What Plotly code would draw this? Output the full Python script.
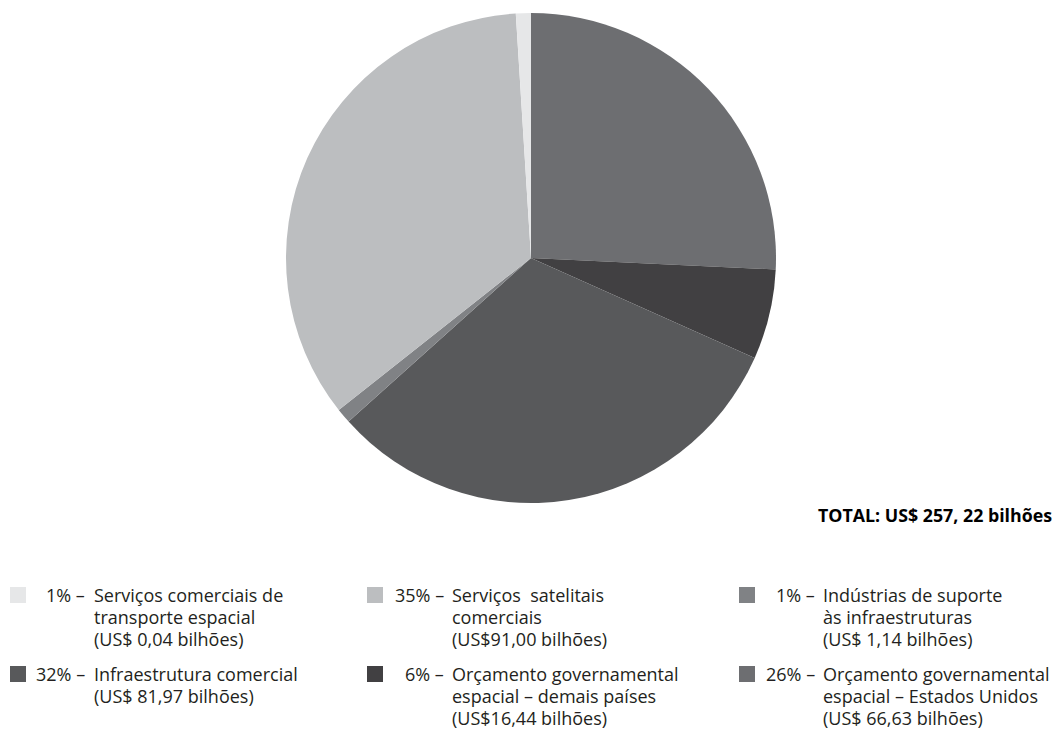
import plotly.graph_objects as go

# Space economy breakdown (share of total, %), clockwise from the top
slice_names = [
    "Orçamento governamental espacial – Estados Unidos",
    "Orçamento governamental espacial – demais países",
    "Infraestrutura comercial",
    "Indústrias de suporte às infraestruturas",
    "Serviços satelitais comerciais",
    "Serviços comerciais de transporte espacial",
]
slice_shares = [26, 6, 32, 1, 35, 1]
slice_colors = ["#6d6e71", "#414042", "#58595b", "#808285", "#bcbec0", "#e6e7e8"]

# Legend text (order: column by column, top to bottom)
legend_order = [5, 2, 4, 1, 3, 0]
legend_lines = {
    5: ["Serviços comerciais de", "transporte espacial"],
    4: ["Serviços  satelitais", "comerciais"],
    3: ["Indústrias de suporte", "às infraestruturas"],
    2: ["Infraestrutura comercial"],
    1: ["Orçamento governamental", "espacial – demais países"],
    0: ["Orçamento governamental", "espacial – Estados Unidos"],
}
legend_values = {
    5: "(US$ 0,04 bilhões)",
    4: "(US$91,00 bilhões)",
    3: "(US$ 1,14 bilhões)",
    2: "(US$ 81,97 bilhões)",
    1: "(US$16,44 bilhões)",
    0: "(US$ 66,63 bilhões)",
}
total_label = "TOTAL: US$ 257, 22 bilhões"

W, H = 1059, 729
FONT = "Open Sans"
FONT_SIZE = 18
TEXT_COLOR = "#231f20"


def px(x):
    return x / W


def py(y):
    return 1 - y / H


fig = go.Figure(
    go.Pie(
        labels=slice_names,
        values=slice_shares,
        marker=dict(colors=slice_colors, line=dict(width=0)),
        sort=False,
        direction="clockwise",
        rotation=0,
        textinfo="none",
        hoverinfo="label+percent",
        domain=dict(x=[px(286), px(776)], y=[py(503), py(13)]),
        showlegend=False,
    )
)

annotations = []
shapes = []

# column geometry: square left, percent right edge, text left edge
columns = [
    dict(sq=10, pct=87, txt=92),
    dict(sq=367, pct=446, txt=450),
    dict(sq=739, pct=817, txt=821),
]
row_top = [595, 674]
line_gap = 22
sq_size = 16

for pos, idx in enumerate(legend_order):
    col = columns[pos // 2]
    y0 = row_top[pos % 2]
    shapes.append(dict(
        type="rect", xref="paper", yref="paper",
        x0=px(col["sq"]), x1=px(col["sq"] + sq_size),
        y0=py(y0 - sq_size / 2), y1=py(y0 + sq_size / 2),
        fillcolor=slice_colors[idx], line=dict(width=0),
    ))
    annotations.append(dict(
        text=f"{slice_shares[idx]}% –", xref="paper", yref="paper",
        x=px(col["pct"]), y=py(y0), xanchor="right", yanchor="middle",
        showarrow=False, font=dict(family=FONT, size=FONT_SIZE, color=TEXT_COLOR),
    ))
    lines = legend_lines[idx] + [legend_values[idx]]
    for k, line in enumerate(lines):
        annotations.append(dict(
            text=line, xref="paper", yref="paper",
            x=px(col["txt"]), y=py(y0 + k * line_gap),
            xanchor="left", yanchor="middle", showarrow=False,
            font=dict(family=FONT, size=FONT_SIZE, color=TEXT_COLOR),
        ))

annotations.append(dict(
    text=f"<b>{total_label}</b>", xref="paper", yref="paper",
    x=px(1054), y=py(515), xanchor="right", yanchor="middle",
    showarrow=False, font=dict(family=FONT, size=17.8, color="#000000"),
))

fig.update_layout(
    width=W, height=H,
    margin=dict(l=0, r=0, t=0, b=0),
    paper_bgcolor="white", plot_bgcolor="white",
    annotations=annotations, shapes=shapes,
)

fig.write_html("out.html")
